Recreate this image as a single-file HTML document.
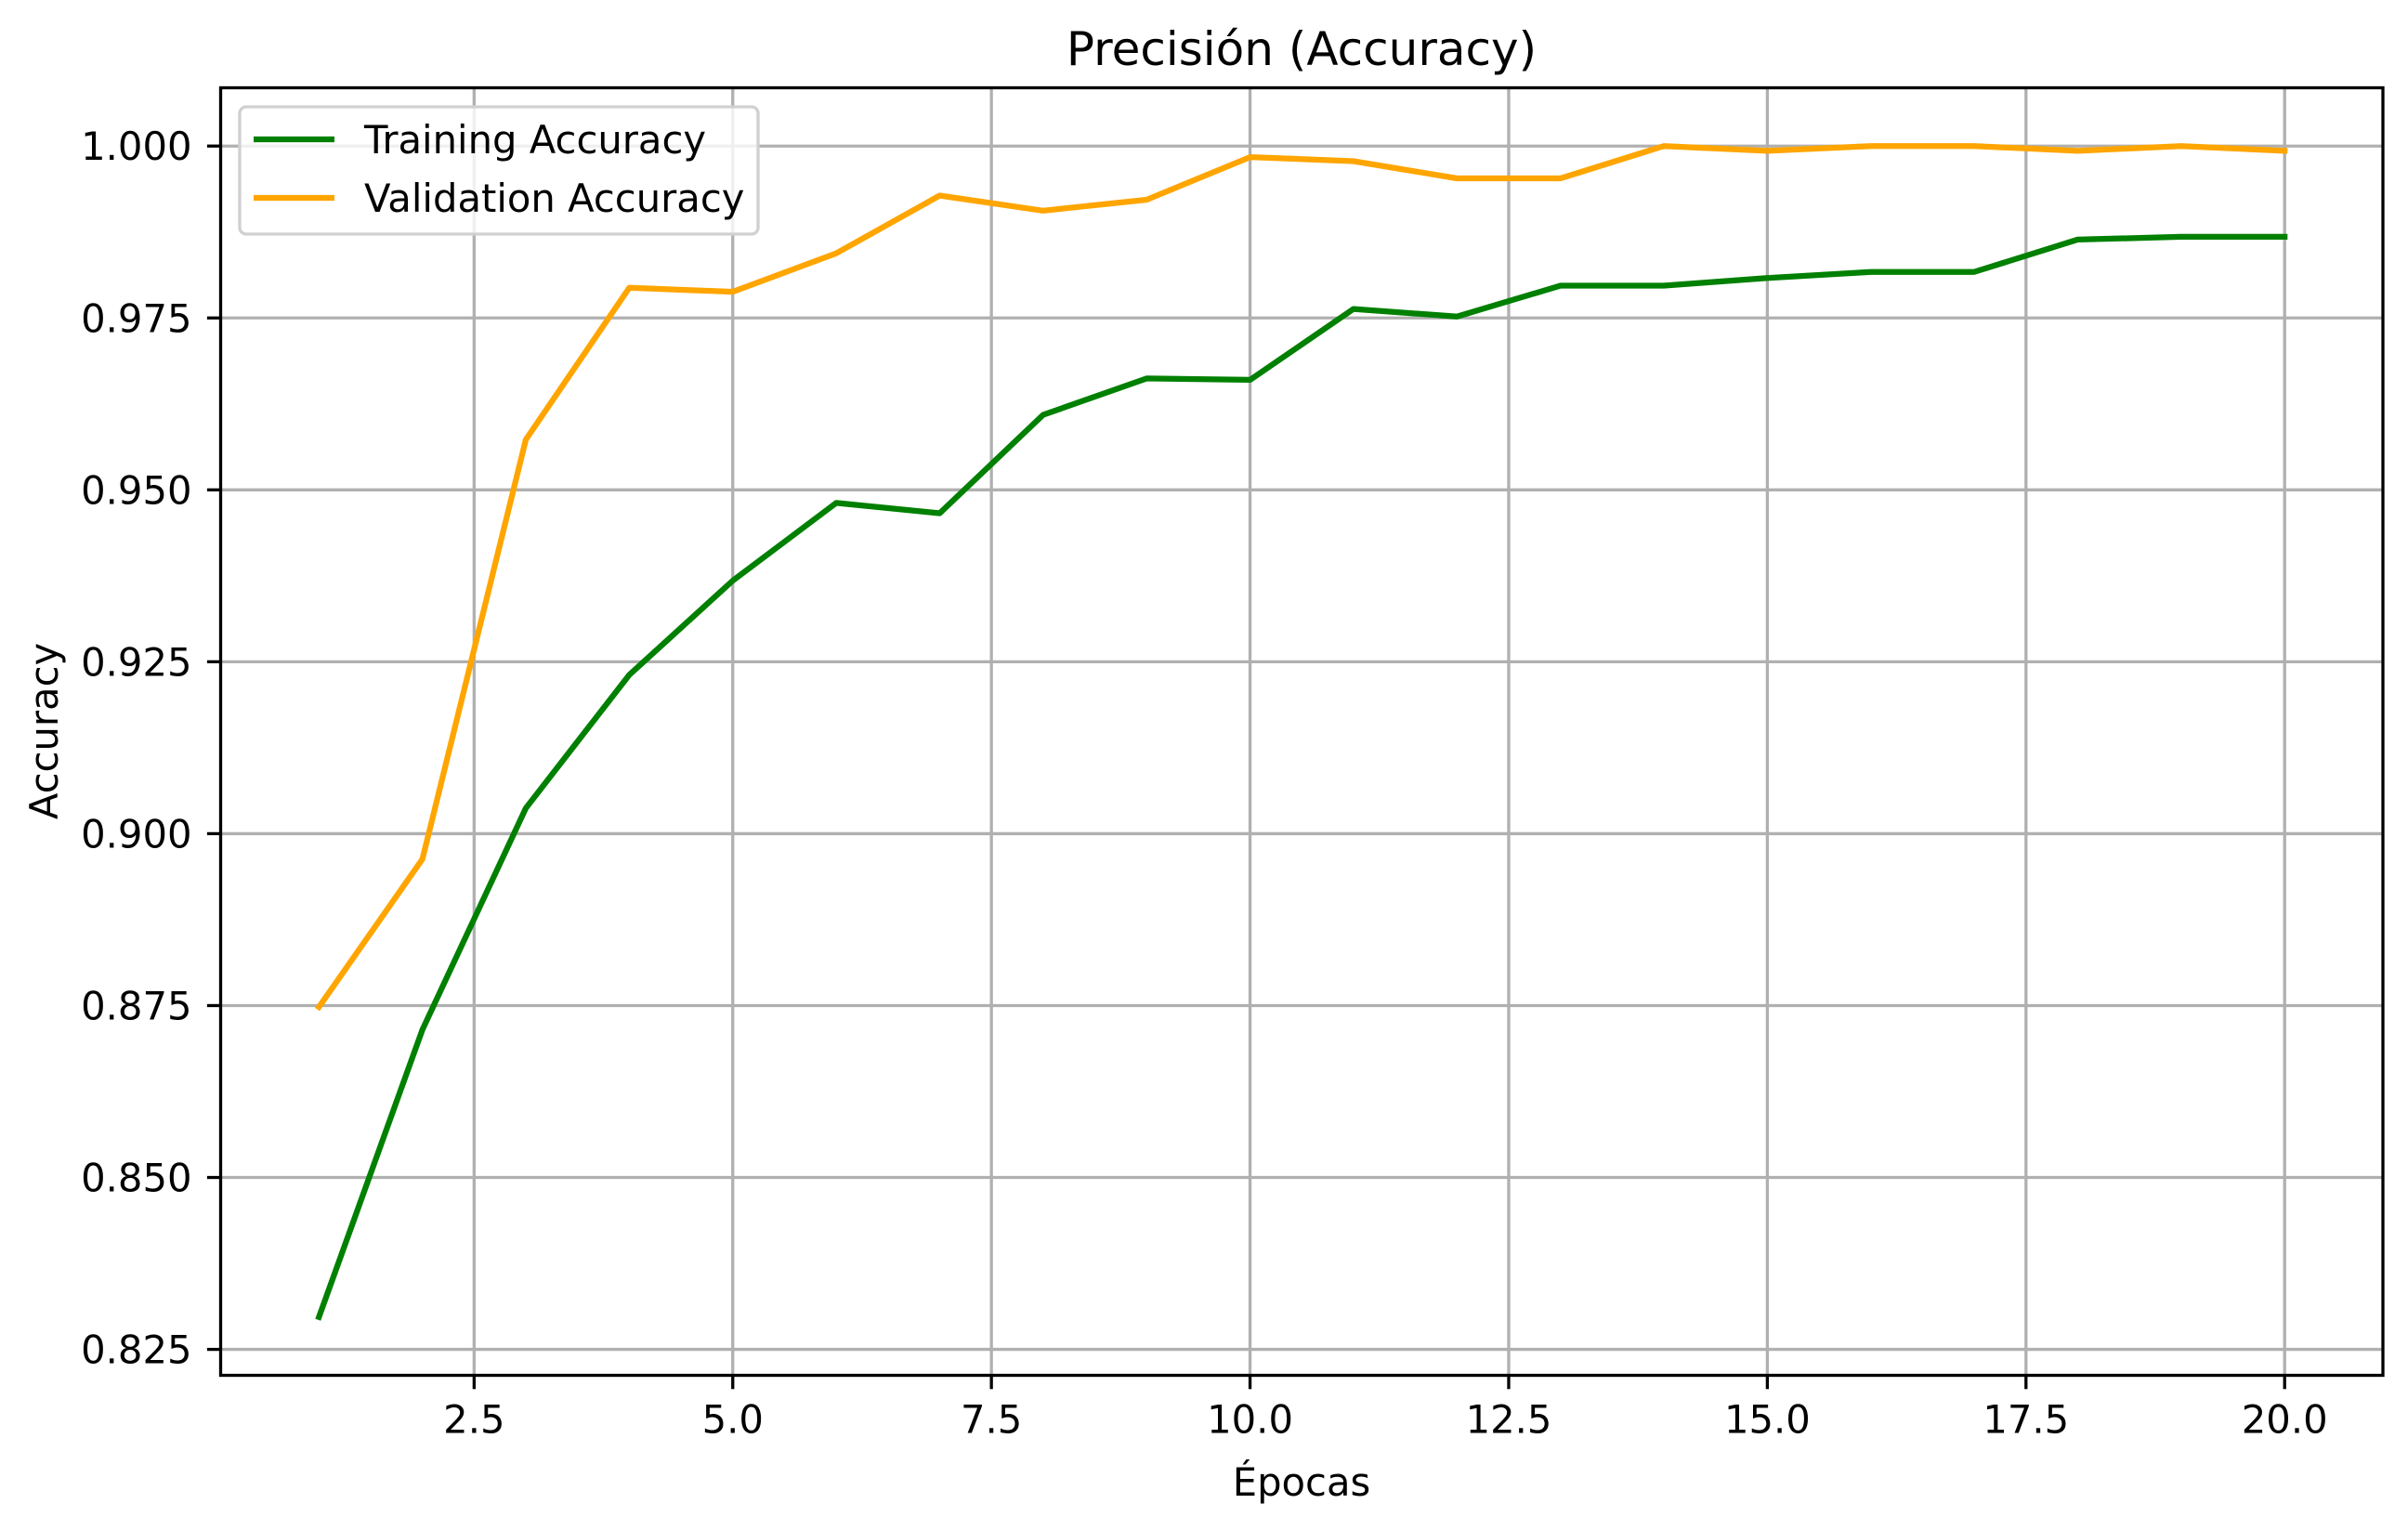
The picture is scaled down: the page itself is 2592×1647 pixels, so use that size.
<!DOCTYPE html>
<html><head><meta charset="utf-8"><style>
html,body{margin:0;padding:0;background:#fff;}
svg{display:block;font-family:"DejaVu Sans","Liberation Sans",sans-serif;}
</style></head><body>
<svg id="chart" width="2592" height="1647" viewBox="0 0 2592 1647" xmlns="http://www.w3.org/2000/svg">
<rect width="2592" height="1647" fill="#fff"/>
<g id="grid"></g>
<g id="series"></g>
<rect x="237.5" y="94.5" width="2327.5" height="1386" fill="none" stroke="#000" stroke-width="3.3"/>
<g id="ticks"></g>
<text x="1401" y="70" font-size="50" text-anchor="middle">Precisión (Accuracy)</text>
<text x="1401" y="1610" font-size="41.7" text-anchor="middle">Épocas</text>
<text transform="translate(62,787) rotate(-90)" font-size="41.7" text-anchor="middle">Accuracy</text>
<g>
<rect x="258" y="115" width="558" height="137" rx="7" fill="#fff" fill-opacity="0.8" stroke="#d0d0d0" stroke-width="3.3"/>
<line x1="273" y1="150" x2="360" y2="150" stroke="#008000" stroke-width="6.25"/>
<text x="392" y="165" font-size="41.7">Training Accuracy</text>
<line x1="273" y1="213" x2="360" y2="213" stroke="#ffa500" stroke-width="6.25"/>
<text x="392" y="228" font-size="41.7">Validation Accuracy</text>
</g>
</svg>
<script>
const epochs = [1,2,3,4,5,6,7,8,9,10,11,12,13,14,15,16,17,18,19,20];
const trainingAcc = [0.8297,0.8715,0.9037,0.9231,0.9368,0.9481,0.9466,0.9609,0.9662,0.9660,0.9763,0.9752,0.9797,0.9797,0.9808,0.9817,0.9817,0.9864,0.9868,0.9868];
const validationAcc = [0.8748,0.8963,0.9573,0.9794,0.9788,0.9844,0.9928,0.9906,0.9922,0.9984,0.9978,0.9953,0.9953,1.0,0.9993,1.0,1.0,0.9993,1.0,0.9993];
const xTicks = [2.5,5.0,7.5,10.0,12.5,15.0,17.5,20.0];
const xTickLabels = ["2.5","5.0","7.5","10.0","12.5","15.0","17.5","20.0"];
const yTicks = [0.825,0.850,0.875,0.900,0.925,0.950,0.975,1.000];
const yTickLabels = ["0.825","0.850","0.875","0.900","0.925","0.950","0.975","1.000"];

const NS = "http://www.w3.org/2000/svg";
const X0 = 237.5, X1 = 2565, Y0 = 1480.7, Y1 = 94.3;
const xMin = 0.05, xMax = 20.95, yMin = 0.8212, yMax = 1.0085;
function xs(v){ return X0 + (v - xMin) / (xMax - xMin) * (X1 - X0); }
function ys(v){ return Y0 - (v - yMin) / (yMax - yMin) * (Y0 - Y1); }
function mk(tag, attrs, parent){
  const el = document.createElementNS(NS, tag);
  for (const k in attrs) el.setAttribute(k, attrs[k]);
  parent.appendChild(el);
  return el;
}
const grid = document.getElementById('grid');
const ticks = document.getElementById('ticks');
const series = document.getElementById('series');

xTicks.forEach((t, i) => {
  const x = xs(t);
  const g = mk('line', {x1:x, y1:Y1, x2:x, y2:Y0, stroke:'#b0b0b0', 'stroke-width':3.3}, grid);
  
  
  const tk = mk('line', {x1:x, y1:Y0, x2:x, y2:Y0+14.6, stroke:'#000', 'stroke-width':3.3}, ticks);
  
  
  const lb = mk('text', {x:x, y:Y0+62, 'font-size':41.7, 'text-anchor':'middle'}, ticks);
  lb.textContent = xTickLabels[i];
  
  
});
yTicks.forEach((t, i) => {
  const y = ys(t);
  const g = mk('line', {x1:X0, y1:y, x2:X1, y2:y, stroke:'#b0b0b0', 'stroke-width':3.3}, grid);
  
  
  const tk = mk('line', {x1:X0-14.6, y1:y, x2:X0, y2:y, stroke:'#000', 'stroke-width':3.3}, ticks);
  
  
  const lb = mk('text', {x:X0-31, y:y+15, 'font-size':41.7, 'text-anchor':'end'}, ticks);
  lb.textContent = yTickLabels[i];
  
  
});
function line(vals, color, name){
  const pts = epochs.map((e, i) => xs(e).toFixed(1) + ',' + ys(vals[i]).toFixed(1)).join(' ');
  const p = mk('polyline', {points:pts, fill:'none', stroke:color, 'stroke-width':6.25, 'stroke-linejoin':'round', 'stroke-linecap':'square'}, series);
  
  
}
line(trainingAcc, '#008000', 'training-accuracy-line');
line(validationAcc, '#ffa500', 'validation-accuracy-line');
</script>
</body></html>
